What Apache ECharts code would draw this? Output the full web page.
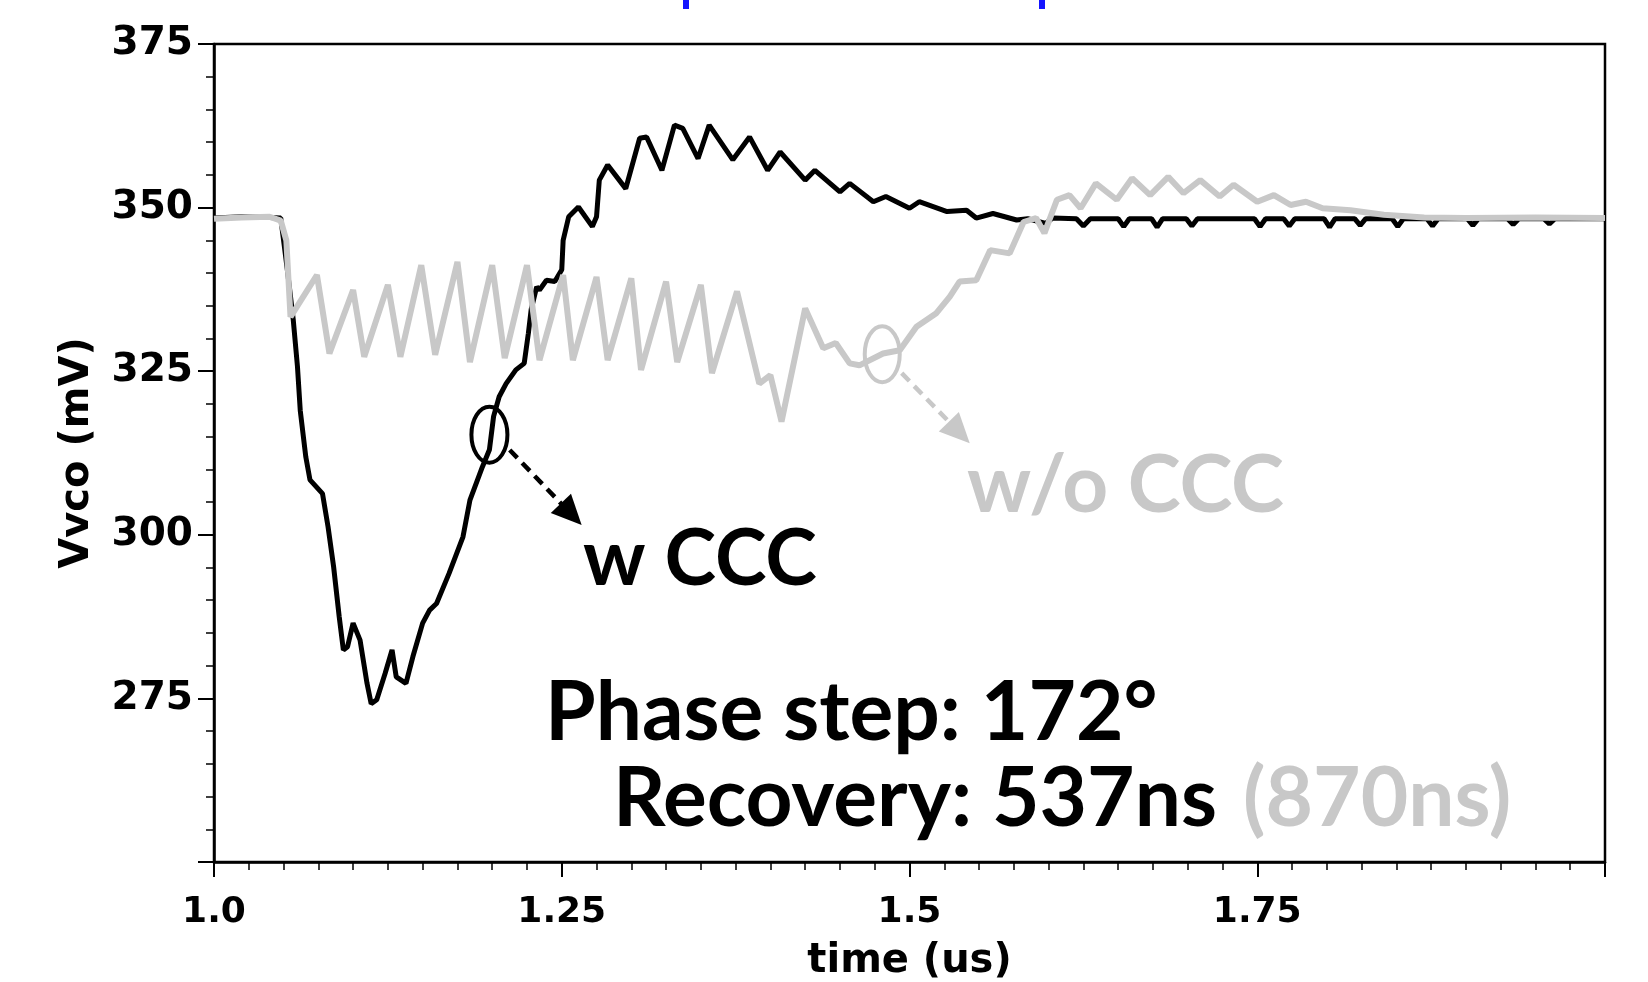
<!DOCTYPE html>
<html><head><meta charset="utf-8">
<script src="https://cdn.jsdelivr.net/npm/echarts@6/dist/echarts.min.js"></script>
<style>html,body{margin:0;padding:0;background:#fff}#c{width:1648px;height:982px}</style>
</head><body><div id="c"></div>
<script>
// ---- data (time in us, voltage in mV) ----
const timeBlack = [1.000,1.020,1.040,1.048,1.053,1.057,1.060,1.062,1.066,1.069,1.078,1.082,1.086,1.090,1.093,1.096,1.100,1.105,1.110,1.113,1.117,1.123,1.128,1.131,1.138,1.143,1.150,1.155,1.160,1.169,1.179,1.184,1.193,1.198,1.201,1.205,1.210,1.217,1.223,1.226,1.228,1.232,1.234,1.239,1.245,1.250,1.251,1.255,1.262,1.272,1.275,1.277,1.283,1.296,1.306,1.311,1.322,1.331,1.337,1.348,1.356,1.373,1.385,1.398,1.407,1.425,1.432,1.450,1.457,1.474,1.483,1.500,1.507,1.527,1.541,1.548,1.560,1.577,1.585,1.598,1.603,1.620,1.625,1.630,1.650,1.654,1.658,1.674,1.678,1.682,1.699,1.703,1.707,1.748,1.752,1.756,1.769,1.773,1.777,1.798,1.802,1.806,1.820,1.824,1.828,1.847,1.851,1.855,1.872,1.876,1.880,1.901,1.905,1.909,1.930,1.934,1.938,1.956,1.960,1.964,2.000];
const voltBlack = [348.4,348.6,348.5,348.4,340.0,332.8,325.7,319.0,311.9,308.4,306.3,301.2,295.1,287.5,282.4,282.9,286.5,283.9,277.3,274.2,274.8,278.8,282.4,278.3,277.3,281.4,286.5,288.5,289.5,294.1,299.7,305.3,310.4,313.0,318.1,321.1,323.1,325.2,326.2,330.8,334.4,337.9,337.4,338.9,338.7,340.5,345.0,348.6,350.1,347.1,348.6,354.2,356.5,352.9,360.6,360.8,355.7,362.6,362.1,357.5,362.6,357.3,360.8,355.7,358.5,354.2,355.7,352.4,353.7,350.9,351.7,349.9,350.9,349.4,349.6,348.4,349.1,348.1,348.3,347.6,348.4,348.3,347.2,348.3,348.3,347.1,348.3,348.3,347.0,348.3,348.3,347.2,348.3,348.3,347.1,348.3,348.3,347.2,348.3,348.3,347.0,348.3,348.3,347.3,348.3,348.3,347.1,348.3,348.3,347.2,348.3,348.3,347.3,348.3,348.3,347.4,348.3,348.3,347.5,348.3,348.3];
const timeGray = [1.000,1.020,1.040,1.048,1.052,1.055,1.074,1.083,1.100,1.108,1.125,1.134,1.149,1.159,1.175,1.184,1.200,1.209,1.225,1.234,1.251,1.258,1.275,1.283,1.300,1.307,1.325,1.333,1.350,1.358,1.376,1.392,1.400,1.408,1.425,1.438,1.447,1.457,1.464,1.481,1.493,1.505,1.519,1.529,1.536,1.548,1.558,1.572,1.582,1.591,1.597,1.606,1.615,1.623,1.634,1.649,1.660,1.673,1.686,1.697,1.709,1.723,1.733,1.750,1.762,1.774,1.785,1.797,1.817,1.841,1.870,1.900,1.950,2.000];
const voltGray = [348.3,348.5,348.6,348.0,345.0,333.3,339.7,327.7,337.4,327.2,338.2,327.2,341.2,327.5,341.7,326.4,341.2,327.0,341.2,326.7,339.7,326.7,339.4,326.7,339.2,325.2,338.7,326.4,338.2,324.7,337.2,323.1,324.4,317.3,334.6,328.5,329.3,326.2,325.9,327.7,328.2,331.8,333.8,336.4,338.7,338.9,343.5,343.0,347.8,348.4,346.1,351.2,351.9,349.9,353.7,351.2,354.5,351.9,354.7,352.2,354.2,351.7,353.5,350.9,351.9,350.4,350.9,349.9,349.6,348.9,348.5,348.4,348.5,348.4];
const xTickValues = [1.0, 1.25, 1.5, 1.75];
const xTickLabels = ['1.0', '1.25', '1.5', '1.75'];
const yTickValues = [275, 300, 325, 350, 375];
const yTickLabels = ['275', '300', '325', '350', '375'];
// annotation anchors (data coordinates)
const ellipseBlack = [1.198, 315.3];
const ellipseGray = [1.4804, 327.6];
const arrowBlack = [[1.2126, 312.96], [1.2643, 301.5]];
const arrowGray = [[1.4944, 324.7], [1.5433, 314.0]];

const zip = (a, b) => a.map((t, i) => [t, b[i]]);
const findLabel = (vals, labels, v) => {
  for (let i = 0; i < vals.length; i++) if (Math.abs(vals[i] - v) < 1e-6) return labels[i];
  return '';
};

const chart = echarts.init(document.getElementById('c'));
const tickFont = 'DejaVu Sans';
chart.setOption({
  animation: false,
  backgroundColor: '#fff',
  grid: {left: 214, right: 43, top: 44, bottom: 120, containLabel: false, outerBoundsMode: 'none',
    show: true, borderColor: '#000', borderWidth: 2.5, backgroundColor: 'transparent'},
  xAxis: {
    type: 'value', min: 1, max: 2, interval: 0.25,
    axisLine: {show: true, onZero: false, lineStyle: {color: '#000', width: 2.5}},
    axisTick: {show: true, inside: false, length: 15, lineStyle: {color: '#000', width: 2}},
    minorTick: {show: true, splitNumber: 10, length: 8, lineStyle: {color: '#000', width: 1.5}},
    splitLine: {show: false}, minorSplitLine: {show: false},
    axisLabel: {fontFamily: tickFont, fontWeight: 'bold', fontSize: 36, color: '#000', margin: 33,
      formatter: v => findLabel(xTickValues, xTickLabels, v)},
    name: 'time (us)', nameLocation: 'middle', nameGap: 80,
    nameTextStyle: {fontFamily: tickFont, fontWeight: 'bold', fontSize: 40, color: '#000'}
  },
  yAxis: {
    type: 'value', min: 250, max: 375, interval: 25,
    axisLine: {show: true, onZero: false, lineStyle: {color: '#000', width: 2.5}},
    axisTick: {show: true, inside: false, length: 16, lineStyle: {color: '#000', width: 2}},
    minorTick: {show: true, splitNumber: 5, length: 8, lineStyle: {color: '#000', width: 1.5}},
    splitLine: {show: false}, minorSplitLine: {show: false},
    axisLabel: {fontFamily: tickFont, fontWeight: 'bold', fontSize: 39, color: '#000', margin: 21,
      formatter: v => findLabel(yTickValues, yTickLabels, v)},
    name: 'Vvco (mV)', nameLocation: 'middle', nameGap: 116,
    nameTextStyle: {fontFamily: tickFont, fontWeight: 'bold', fontSize: 40, color: '#000'}
  },
  series: [
    {name: 'w CCC', type: 'line', data: zip(timeBlack, voltBlack), symbol: 'none',
      lineStyle: {color: '#000', width: 5}, z: 2},
    {name: 'w/o CCC', type: 'line', data: zip(timeGray, voltGray), symbol: 'none',
      lineStyle: {color: '#c8c8c8', width: 6}, z: 3}
  ]
});

const px = d => chart.convertToPixel({gridIndex: 0}, d);
function arrow(pts, color) {
  const a = px(pts[0]), b = px(pts[1]);
  const dx = b[0] - a[0], dy = b[1] - a[1], L = Math.hypot(dx, dy);
  const ux = dx / L, uy = dy / L, hl = 30, hw = 14;
  const base = [b[0] - ux * hl, b[1] - uy * hl];
  return [
    {type: 'line', shape: {x1: a[0], y1: a[1], x2: base[0] + ux * 4, y2: base[1] + uy * 4},
      style: {stroke: color, lineWidth: 4.5, lineDash: [11, 7]}, z: 10},
    {type: 'polygon', shape: {points: [b, [base[0] - uy * hw, base[1] + ux * hw], [base[0] + uy * hw, base[1] - ux * hw]]},
      style: {fill: color}, z: 10}
  ];
}
const eB = px(ellipseBlack), eG = px(ellipseGray);
const txt = (text, x, baseline, color, size) => ({
  type: 'text', x: x, y: baseline - 0.3225 * size, z: 10,
  style: {text: text, font: 'bold ' + size + 'px Lato', fill: color, textAlign: 'left', textVerticalAlign: 'middle'}
});
chart.setOption({
  graphic: [
    {type: 'rect', shape: {x: 683, y: 0, width: 6, height: 9}, style: {fill: '#1414ff'}},
    {type: 'rect', shape: {x: 1039, y: 0, width: 6, height: 9}, style: {fill: '#1414ff'}},
    {type: 'ellipse', shape: {cx: eB[0], cy: eB[1], rx: 18, ry: 28}, style: {fill: 'none', stroke: '#000', lineWidth: 4}, z: 10},
    {type: 'ellipse', shape: {cx: eG[0], cy: eG[1], rx: 17.5, ry: 28}, style: {fill: 'none', stroke: '#c8c8c8', lineWidth: 4}, z: 10},
    ...arrow(arrowBlack, '#000'),
    ...arrow(arrowGray, '#c8c8c8'),
    txt('w CCC', 583, 585, '#000', 78),
    txt('w/o CCC', 967, 512, '#c8c8c8', 80),
    txt('Phase step: 172°', 545, 740, '#000', 82),
    txt('Recovery: 537ns', 613, 826, '#000', 82),
    txt('(870ns)', 1243, 826, '#c8c8c8', 82)
  ]
});
</script>
</body></html>
